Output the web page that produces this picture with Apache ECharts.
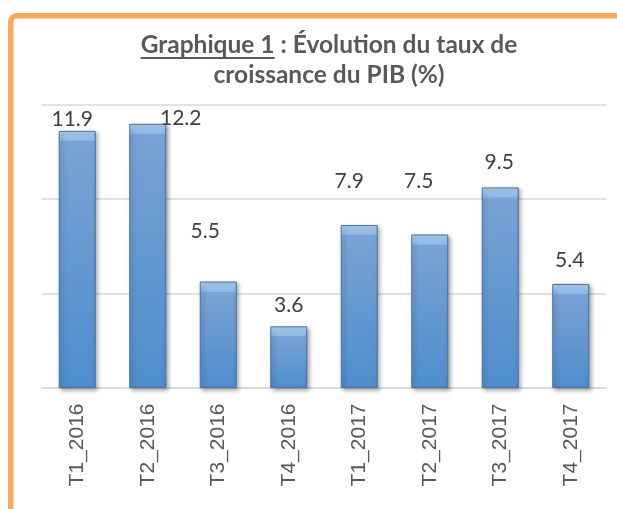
<!DOCTYPE html>
<html><head><meta charset="utf-8">
<script src="https://cdn.jsdelivr.net/npm/echarts@6/dist/echarts.min.js"></script>
<style>html,body{margin:0;padding:0;background:#fff}#c{width:617px;height:509px}</style>
</head><body><div id="c"></div>
<script>
const categories = ['T1_2016','T2_2016','T3_2016','T4_2016','T1_2017','T2_2017','T3_2017','T4_2017'];
const growth = [11.9, 12.2, 5.5, 3.6, 7.9, 7.5, 9.5, 5.4];
const labelShift = [[-5,-2],[33,4],[-13,-40],[0,-11],[-10,-34],[-11,-43],[-1,-15],[-1,-14]];
const titleUnderlined = 'Graphique 1';
const titleRest = ' : Évolution du taux de';
const titleLine2 = 'croissance du PIB (%)';
const yMin = 1, yMax = 13, yStep = 4;

const titleFontSize = 24.5;
const titleFontFamily = 'Lato';
const ctx = document.createElement('canvas').getContext('2d');
ctx.font = 'bold ' + titleFontSize + 'px ' + titleFontFamily;
const wU = ctx.measureText(titleUnderlined).width;
const wL1 = ctx.measureText(titleUnderlined + titleRest).width;
const titleCenter = 329;
const titleLeft = titleCenter - wL1 / 2;

const chart = echarts.init(document.getElementById('c'), null, {renderer: 'canvas'});

function barColor(hPx) {
  const b = Math.min(0.5, 10 / Math.max(hPx, 1));
  return new echarts.graphic.LinearGradient(0, 0, 0, 1, [
    {offset: 0, color: '#b3d3f3'},
    {offset: b, color: '#8ab6e5'},
    {offset: Math.min(1, b + 0.001), color: '#79a3d4'},
    {offset: 1, color: '#4f8dcd'}
  ]);
}

const option = {
  backgroundColor: '#ffffff',
  animation: false,
  title: {
    text: titleUnderlined + titleRest + '\n' + titleLine2,
    left: titleCenter,
    top: 30,
    padding: 0,
    textAlign: 'center',
    textStyle: {fontFamily: titleFontFamily, fontWeight: 'bold', fontSize: titleFontSize, color: '#595959', lineHeight: 30}
  },
  graphic: [
    {type: 'rect', shape: {x: 10.75, y: 15.75, width: 1000, height: 1000, r: 6}, style: {fill: 'none', stroke: '#FBAA5C', lineWidth: 5.5}, silent: true},
    {type: 'rect', shape: {x: titleLeft, y: 57, width: wU, height: 2}, style: {fill: '#595959'}, silent: true}
  ],
  grid: {left: 42, right: 11, top: 105, bottom: 121.5},
  xAxis: {
    type: 'category',
    data: categories,
    axisLine: {show: true, lineStyle: {color: '#d9d9d9', width: 1.5}},
    axisTick: {show: false},
    axisLabel: {rotate: 90, margin: 16, fontFamily: 'Liberation Sans, Arial', fontSize: 21, color: '#595959', interval: 0}
  },
  yAxis: {
    type: 'value', min: yMin, max: yMax, interval: yStep,
    axisLabel: {show: false}, axisLine: {show: false}, axisTick: {show: false},
    splitLine: {show: true, lineStyle: {color: '#d9d9d9', width: 1.5}}
  },
  series: [{
    type: 'bar',
    barWidth: 37,
    data: growth.map((v, i) => ({value: v, label: {offset: labelShift[i]}})),
    itemStyle: {
      color: '#6a9bd2',
      borderColor: '#4672a6', borderWidth: 1,
      shadowBlur: 4, shadowColor: 'rgba(0,0,0,0.35)', shadowOffsetX: 2, shadowOffsetY: 2
    },
    label: {
      show: true, position: 'top', distance: 0,
      fontFamily: 'Lato', fontSize: 21, lineHeight: 20, color: '#404040',
      formatter: p => p.value.toFixed(1)
    }
  }]
};
chart.setOption(option);

const base = chart.convertToPixel({yAxisIndex: 0}, yMin);
chart.setOption({
  series: [{
    data: growth.map((v, i) => ({
      value: v,
      label: {offset: labelShift[i]},
      itemStyle: {color: barColor(base - chart.convertToPixel({yAxisIndex: 0}, v))}
    }))
  }]
});
</script></body></html>
